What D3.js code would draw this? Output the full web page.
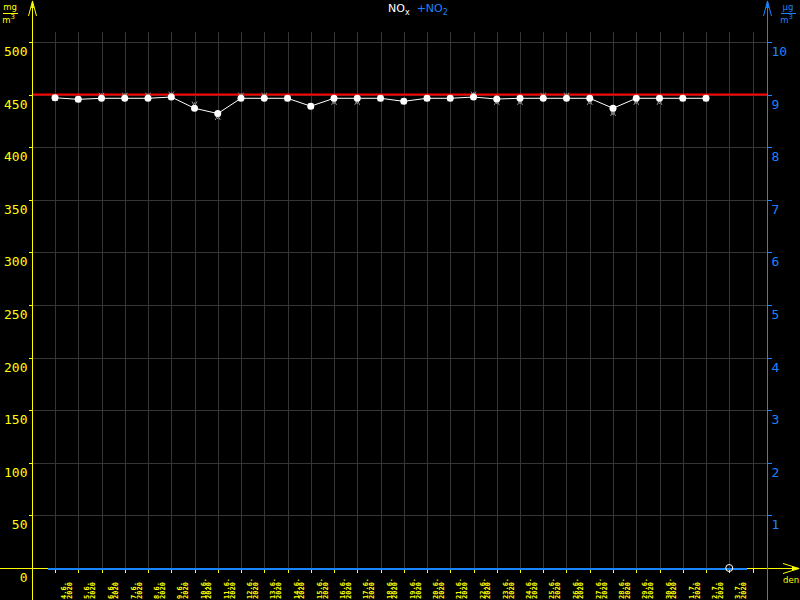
<!DOCTYPE html>
<html>
<head>
<meta charset="utf-8">
<script src="https://cdn.jsdelivr.net/npm/d3@7"></script>
<style>
  html, body { margin: 0; padding: 0; background: #000; }
  svg { display: block; }
</style>
</head>
<body>
<svg id="chart" width="800" height="600"></svg>
<script>
// ---------- DATA ----------
const dayLabels = ["4.6.","5.6.","6.6.","7.6.","8.6.","9.6.","10.6.","11.6.","12.6.","13.6.",
  "14.6.","15.6.","16.6.","17.6.","18.6.","19.6.","20.6.","21.6.","22.6.","23.6.",
  "24.6.","25.6.","26.6.","27.6.","28.6.","29.6.","30.6.","1.7.","2.7.","3.7."];
const yearLabel = "2020";
// NOx values (mg/m3) at each day boundary
const noxValues = [447,445.5,446.5,446.5,446.5,447.7,437,432,446.5,446.5,
  446.5,439,446.5,446.5,446.5,443.6,446.5,446.5,447.7,445.8,
  446.5,446.5,446.5,446.5,437,446.5,446.5,446.5,446.5];
// secondary grey markers
const greyValues = [447,445.5,449,449,449,450,440.6,428.7,449,449,
  446.5,439,443,443,446.5,443.6,446.5,446.5,450,443,
  443,449,449,443,432.5,443,443,446.5,446.5];
const missingIndex = [29];
const missingValues = [0];
const limitValue = 450;
const leftTicks = [0,50,100,150,200,250,300,350,400,450,500];
const rightTicks = [1,2,3,4,5,6,7,8,9,10];

// ---------- STYLE ----------
const YEL = "#ffff00", BLUE = "#1a84ff", GRID = "#363636";
const svg = d3.select("#chart");
const pLeft = 32, pRight = 767, pTop = 42, pBottom = 568;

const x = d3.scaleLinear().domain([0, 30]).range([55, 752.5]);
const yL = d3.scaleLinear().domain([0, 500]).range([pBottom, pTop]);
const yR = d3.scaleLinear().domain([0, 10]).range([pBottom, pTop]);

svg.append("rect").attr("width", 800).attr("height", 600).attr("fill", "#000");

// grid
const grid = svg.append("g").attr("shape-rendering", "crispEdges");
grid.selectAll("line.h").data(leftTicks.filter(d => d > 0)).enter().append("line")
  .attr("x1", pLeft).attr("x2", pRight)
  .attr("y1", d => Math.round(yL(d)) + 0.5).attr("y2", d => Math.round(yL(d)) + 0.5)
  .attr("stroke", GRID);
grid.selectAll("line.v").data(d3.range(31)).enter().append("line")
  .attr("x1", d => Math.round(x(d)) + 0.5).attr("x2", d => Math.round(x(d)) + 0.5)
  .attr("y1", 32).attr("y2", pBottom)
  .attr("stroke", GRID);

// left axis
const gL = svg.append("g").attr("transform", `translate(${pLeft + 0.5},0)`)
  .call(d3.axisLeft(yL).tickValues(leftTicks).tickSize(4).tickPadding(1).tickSizeOuter(0));
gL.select(".domain").remove();
gL.selectAll("line").attr("stroke", YEL).attr("shape-rendering", "crispEdges");
gL.selectAll("text").attr("fill", YEL).attr("dy", null).attr("y", 13)
  .attr("font-family", "DejaVu Sans Mono").attr("font-size", 13);
gL.selectAll(".tick").attr("transform", d => `translate(0,${Math.round(yL(d)) + 0.5})`);

// right axis
const gR = svg.append("g").attr("transform", `translate(${pRight + 0.5},0)`)
  .call(d3.axisRight(yR).tickValues(rightTicks).tickSize(4).tickPadding(0).tickSizeOuter(0));
gR.select(".domain").remove();
gR.selectAll("line").attr("stroke", BLUE).attr("shape-rendering", "crispEdges");
gR.selectAll("text").attr("fill", BLUE).attr("dy", null).attr("y", 13)
  .attr("font-family", "DejaVu Sans Mono").attr("font-size", 13);
gR.selectAll(".tick").attr("transform", d => `translate(0,${Math.round(yR(d)) + 0.5})`);

// bottom axis ticks
const gB = svg.append("g").attr("transform", `translate(0,${pBottom + 0.5})`)
  .call(d3.axisBottom(x).tickValues(d3.range(31)).tickSize(4).tickFormat("").tickSizeOuter(0));
gB.select(".domain").remove();
gB.selectAll("line").attr("stroke", YEL).attr("shape-rendering", "crispEdges");
gB.selectAll(".tick").attr("transform", d => `translate(${Math.round(x(d)) + 0.5},0)`);

// x labels
const lab = svg.append("g").selectAll("g").data(dayLabels).enter().append("g")
  .attr("transform", (d, i) => `translate(${x(i + 0.5)},599) rotate(-90)`);
lab.append("text").attr("x", 0).attr("y", -0.5).text(d => d)
  .attr("fill", YEL).attr("font-family", "DejaVu Sans Mono").attr("font-size", 7).attr("font-weight", "bold");
lab.append("text").attr("x", 0).attr("y", 5.2).text(yearLabel)
  .attr("fill", YEL).attr("font-family", "DejaVu Sans Mono").attr("font-size", 7).attr("font-weight", "bold");

// axes lines
const ax = svg.append("g").attr("shape-rendering", "crispEdges");
ax.append("line").attr("x1", 0).attr("x2", 798).attr("y1", pBottom + 0.5).attr("y2", pBottom + 0.5).attr("stroke", YEL);
ax.append("line").attr("x1", 48).attr("x2", 747).attr("y1", pBottom + 0.5).attr("y2", pBottom + 0.5).attr("stroke", BLUE).attr("stroke-width", 2);
ax.append("line").attr("x1", pLeft + 0.5).attr("x2", pLeft + 0.5).attr("y1", 1).attr("y2", 600).attr("stroke", YEL);
ax.append("line").attr("x1", pRight + 0.5).attr("x2", pRight + 0.5).attr("y1", 1).attr("y2", 600).attr("stroke", BLUE);

// arrows
function vArrow(cx, col) {
  svg.append("path").attr("d", `M${cx - 4},16 L${cx},1 L${cx + 4},16`).attr("fill", "none").attr("stroke", col);
  svg.append("path").attr("d", `M${cx - 1.5},8 L${cx},0 L${cx + 1.5},8 Z`).attr("fill", col);
}
vArrow(pLeft + 0.5, YEL);
vArrow(pRight + 0.5, BLUE);
svg.append("path").attr("d", `M783,${pBottom - 4.5} L799,${pBottom + 0.5} L783,${pBottom + 5.5}`).attr("fill", "none").attr("stroke", YEL);
svg.append("path").attr("d", `M792,${pBottom - 1.5} L800,${pBottom + 0.5} L792,${pBottom + 2.5} Z`).attr("fill", YEL);
svg.append("text").attr("x", 783).attr("y", 583).text("den").attr("fill", YEL)
  .attr("font-family", "DejaVu Sans").attr("font-size", 8.5);

// units
function unit(xc, top1, col) {
  svg.append("text").attr("x", xc).attr("y", 10).attr("text-anchor", "middle").text(top1)
    .attr("fill", col).attr("font-family", "DejaVu Sans").attr("font-size", 8.5);
  svg.append("line").attr("x1", xc - 7.5).attr("x2", xc + 7.5).attr("y1", 13.5).attr("y2", 13.5)
    .attr("stroke", col).attr("shape-rendering", "crispEdges");
  const t = svg.append("text").attr("x", xc - 1.5).attr("y", 23).attr("text-anchor", "middle")
    .attr("fill", col).attr("font-family", "DejaVu Sans").attr("font-size", 8.5);
  t.append("tspan").text("m");
  t.append("tspan").text("3").attr("dy", -4).attr("font-size", 7);
}
unit(10, "mg", YEL);
unit(788, "\u00b5g", BLUE);

// title
const title = svg.append("text").attr("x", 388).attr("y", 12)
  .attr("font-family", "DejaVu Sans").attr("font-size", 11);
title.append("tspan").text("NO").attr("fill", "#fff");
title.append("tspan").text("x").attr("fill", "#fff").attr("font-size", 8).attr("dy", 3);
title.append("tspan").text("+NO").attr("fill", BLUE).attr("font-size", 11).attr("dy", -3).attr("dx", 7);
title.append("tspan").text("2").attr("fill", BLUE).attr("font-size", 8).attr("dy", 3);

// limit line
svg.append("line").attr("x1", pLeft + 1).attr("x2", pRight)
  .attr("y1", yL(limitValue)).attr("y2", yL(limitValue))
  .attr("stroke", "#ff0000").attr("stroke-width", 2);

// NOx line
svg.append("path").datum(noxValues)
  .attr("d", d3.line().x((d, i) => x(i)).y(d => yL(d)))
  .attr("fill", "none").attr("stroke", "#fff").attr("stroke-width", 1);

// grey markers
svg.append("g").selectAll("path").data(greyValues).enter().append("path")
  .attr("d", (d, i) => {
    const cx = x(i), cy = yL(d);
    return `M${cx - 2.5},${cy - 3} L${cx},${cy + 2} L${cx + 2.5},${cy - 3} M${cx - 2.5},${cy + 3} L${cx},${cy - 2} L${cx + 2.5},${cy + 3}`;
  })
  .attr("fill", "none").attr("stroke", "#8a8a8a").attr("stroke-width", 1);

// NOx points
svg.append("g").selectAll("circle").data(noxValues).enter().append("circle")
  .attr("cx", (d, i) => x(i)).attr("cy", d => yL(d)).attr("r", 3.5).attr("fill", "#fff");

// missing point
svg.append("g").selectAll("circle").data(missingIndex).enter().append("circle")
  .attr("cx", d => x(d)).attr("cy", (d, k) => yL(missingValues[k])).attr("r", 3.5)
  .attr("fill", "none").attr("stroke", "#fff").attr("stroke-width", 1);
</script>
</body>
</html>
